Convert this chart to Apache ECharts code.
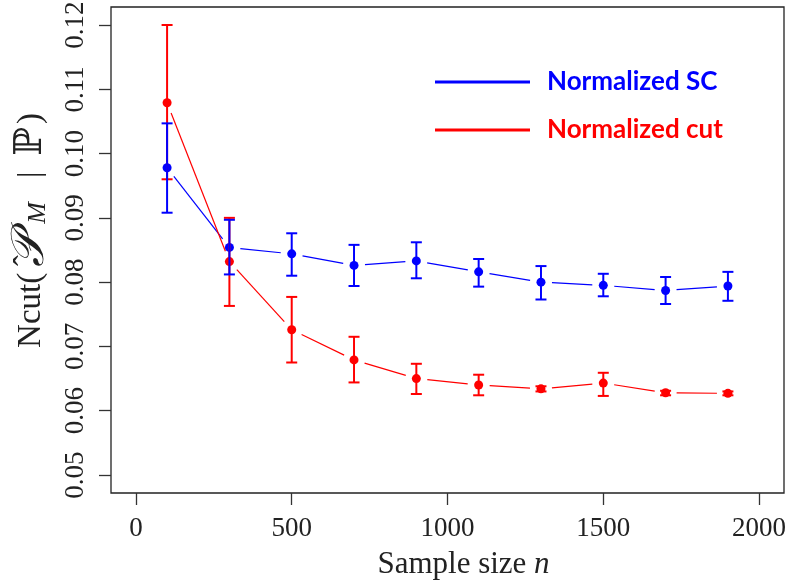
<!DOCTYPE html>
<html><head><meta charset="utf-8">
<script src="https://cdn.jsdelivr.net/npm/echarts@6/dist/echarts.min.js"></script>
<style>html,body{margin:0;padding:0;background:#fff}#c{width:786px;height:588px}</style>
</head><body><div id="c"></div>
<script>
const sampleSizes = [100, 300, 500, 700, 900, 1100, 1300, 1500, 1700, 1900];
const scMean   = [0.0978, 0.0854, 0.0844, 0.0826, 0.0833, 0.0816, 0.0800, 0.0795, 0.0787, 0.0794];
const scLower  = [0.0908, 0.0812, 0.0810, 0.0794, 0.0806, 0.0793, 0.0773, 0.0778, 0.0766, 0.0771];
const scUpper  = [0.1047, 0.0897, 0.0876, 0.0858, 0.0862, 0.0836, 0.0825, 0.0813, 0.0808, 0.0816];
const cutMean  = [0.1079, 0.0832, 0.0726, 0.0679, 0.0650, 0.0640, 0.0634, 0.0643, 0.0628, 0.0627];
const cutLower = [0.0960, 0.0763, 0.0675, 0.0644, 0.0626, 0.0624, 0.0630, 0.0623, 0.0624, 0.0624];
const cutUpper = [0.1200, 0.0900, 0.0777, 0.0715, 0.0673, 0.0656, 0.0638, 0.0659, 0.0631, 0.0630];
const xTicks = [0, 500, 1000, 1500, 2000];
const yTicks = [0.05, 0.06, 0.07, 0.08, 0.09, 0.10, 0.11, 0.12];
const seriesNames = ['Normalized SC', 'Normalized cut'];
const BLUE = '#0000ff', RED = '#ff0000';
const SERIF = '"Liberation Serif", "DejaVu Serif", serif';

function gapLineSeries(name, color, ys) {
  const data = [];
  for (let i = 0; i < sampleSizes.length - 1; i++) data.push([sampleSizes[i], ys[i], sampleSizes[i + 1], ys[i + 1]]);
  return {
    type: 'custom', name: name, data: data, z: 2, silent: true,
    encode: { x: [0, 2], y: [1, 3] },
    renderItem: function (params, api) {
      const p0 = api.coord([api.value(0), api.value(1)]);
      const p1 = api.coord([api.value(2), api.value(3)]);
      const dx = p1[0] - p0[0], dy = p1[1] - p0[1], L = Math.hypot(dx, dy), g = 11;
      if (L <= 2 * g) return null;
      const ux = dx / L, uy = dy / L;
      return { type: 'line', shape: { x1: p0[0] + ux * g, y1: p0[1] + uy * g, x2: p1[0] - ux * g, y2: p1[1] - uy * g },
        style: { stroke: color, lineWidth: 1.2 } };
    }
  };
}
function errSeries(name, color, lo, hi, z) {
  const data = sampleSizes.map((x, i) => [x, lo[i], hi[i]]);
  return {
    type: 'custom', name: name, data: data, z: z, silent: true,
    encode: { x: 0, y: [1, 2] },
    renderItem: function (params, api) {
      const x = api.value(0);
      const a = api.coord([x, api.value(1)]), b = api.coord([x, api.value(2)]);
      const w = 5.5, st = { stroke: color, lineWidth: 2 };
      return { type: 'group', children: [
        { type: 'line', shape: { x1: a[0], y1: a[1], x2: b[0], y2: b[1] }, style: st },
        { type: 'line', shape: { x1: a[0] - w, y1: a[1], x2: a[0] + w, y2: a[1] }, style: st },
        { type: 'line', shape: { x1: b[0] - w, y1: b[1], x2: b[0] + w, y2: b[1] }, style: st }
      ] };
    }
  };
}
function dotSeries(name, color, ys, z) {
  return { type: 'scatter', name: name, data: sampleSizes.map((x, i) => [x, ys[i]]), symbol: 'circle',
    symbolSize: 9, itemStyle: { color: color, opacity: 1 }, z: z, silent: true };
}

const chart = echarts.init(document.getElementById('c'), null, { renderer: 'canvas' });
chart.setOption({
  animation: false,
  backgroundColor: '#ffffff',
  grid: { left: 111, top: 7, right: 2, bottom: 95, show: true, borderColor: '#222', borderWidth: 1.3,
    backgroundColor: 'transparent', containLabel: false, outerBoundsMode: 'none' },
  legend: {
    orient: 'vertical', left: 435, top: 67, padding: 0, itemWidth: 95, itemHeight: 3, itemGap: 18,
    selectedMode: false,
    textStyle: { fontFamily: 'Lato, "Open Sans", sans-serif', fontWeight: 'bold', fontSize: 26, lineHeight: 30, padding: [0, 0, 0, 12] },
    data: [
      { name: seriesNames[0], icon: 'rect', itemStyle: { color: BLUE }, textStyle: { color: BLUE } },
      { name: seriesNames[1], icon: 'rect', itemStyle: { color: RED }, textStyle: { color: RED } }
    ]
  },
  xAxis: {
    type: 'value', min: -80, max: 2080,
    axisLine: { show: false, onZero: false }, splitLine: { show: false },
    axisTick: { show: true, length: 12, customValues: xTicks, lineStyle: { color: '#333', width: 1.3 } },
    axisLabel: { customValues: xTicks, formatter: v => String(v), fontFamily: SERIF, fontSize: 27, color: '#222', margin: 22 },
    name: '{a|Sample size }{i|n}', nameLocation: 'middle', nameGap: 56,
    nameTextStyle: { padding: [0, 0, 0, 32], rich: {
      a: { fontFamily: SERIF, fontSize: 31, color: '#222' },
      i: { fontFamily: SERIF, fontStyle: 'italic', fontSize: 31, color: '#222' }
    } }
  },
  yAxis: {
    type: 'value', min: 0.0472, max: 0.1228,
    axisLine: { show: false, onZero: false }, splitLine: { show: false },
    axisTick: { show: true, length: 12, customValues: yTicks, lineStyle: { color: '#333', width: 1.3 } },
    axisLabel: { customValues: yTicks, rotate: 90, formatter: v => v.toFixed(2), fontFamily: SERIF, fontSize: 27, color: '#222', margin: 22 },
    name: '{r|Ncut(}{hat|   ˆ}{s|𝒫}{sub|M}{bar||}{d|ℙ}{r|)}', nameLocation: 'middle', nameRotate: 90, nameGap: 60,
    nameTextStyle: { padding: [0, 0, 0, 39], rich: {
      r: { fontFamily: SERIF, fontSize: 33, color: '#222', lineHeight: 40 },
      hat: { fontFamily: SERIF, fontSize: 32, color: '#222', lineHeight: 40, width: 0, align: 'left', verticalAlign: 'top' },
      s: { fontFamily: '"DejaVu Serif", serif', fontStyle: 'italic', fontSize: 46, color: '#222', lineHeight: 40, padding: [0, 0, 0, 6] },
      sub: { fontFamily: SERIF, fontStyle: 'italic', fontSize: 26, color: '#222', lineHeight: 40, verticalAlign: 'bottom', padding: [0, 0, 0, 10] },
      bar: { fontFamily: SERIF, fontSize: 32, color: '#222', lineHeight: 40, padding: [0, 16, 0, 24] },
      d: { fontFamily: '"DejaVu Serif", serif', fontSize: 38, color: '#222', lineHeight: 40, padding: [0, 3, 0, 0] }
    } }
  },
  series: [
    gapLineSeries(seriesNames[0], BLUE, scMean),
    gapLineSeries(seriesNames[1], RED, cutMean),
    dotSeries(seriesNames[0], BLUE, scMean, 3),
    dotSeries(seriesNames[1], RED, cutMean, 3),
    errSeries(seriesNames[1], RED, cutLower, cutUpper, 4),
    errSeries(seriesNames[0], BLUE, scLower, scUpper, 5)
  ]
});
</script></body></html>
